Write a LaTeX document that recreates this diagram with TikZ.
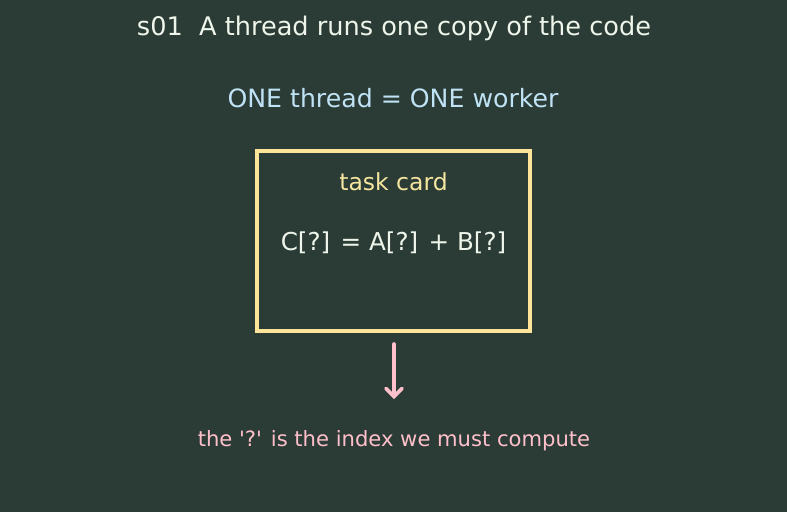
\documentclass[tikz,border=0pt]{standalone}
\usepackage{fontspec}
\newfontfamily\dv{DejaVu Sans}
\usetikzlibrary{arrows.meta}
\definecolor{bg}{HTML}{2B3B35}
\definecolor{titlec}{HTML}{EEF5EA}
\definecolor{subc}{HTML}{BFE3F5}
\definecolor{boxc}{HTML}{FFE59A}
\definecolor{cardc}{HTML}{F5E6A0}
\definecolor{pinkc}{HTML}{FFC0CB}
\tikzset{
  txt/.style={inner sep=0pt, anchor=center},
  card/.style={draw=boxc, line width=3.8pt, fill=none},
  pinkarrow/.style={draw=pinkc, line width=3.6pt, line cap=round, -{Straight Barb[length=8pt,width=16pt,line cap=round]}}
}
\begin{document}
\begin{tikzpicture}[x=1pt,y=-1pt]
\fill[bg] (0,0) rectangle (787,512);
\useasboundingbox (0,0) rectangle (787,512);
\node[txt, text=titlec, font=\dv\fontsize{25.6}{30}\selectfont] (title) at (394,28) {s01\ \ A thread runs one copy of the code};
\node[txt, text=subc, font=\dv\fontsize{25.2}{30}\selectfont] (sub) at (393,98.5) {ONE thread = ONE worker};
\node[card, minimum width=273pt, minimum height=180pt, inner sep=0pt] (box) at (393.5,241) {};
\node[txt, text=cardc, font=\dv\fontsize{23.5}{28}\selectfont] (tc) at (393.5,182) {task card};
\node[txt, text=titlec, font=\dv\fontsize{24.6}{29}\selectfont] (eq) at (393.5,243) {C[?] = A[?] + B[?]};
\coordinate (a1) at (394,344);
\coordinate (a2) at (394,399);
\draw[pinkarrow] (a1) -- (a2);
\node[txt, text=pinkc, font=\dv\fontsize{21.1}{25}\selectfont] (note) at (394,441) {the '?' is the index we must compute};
\end{tikzpicture}
\end{document}
